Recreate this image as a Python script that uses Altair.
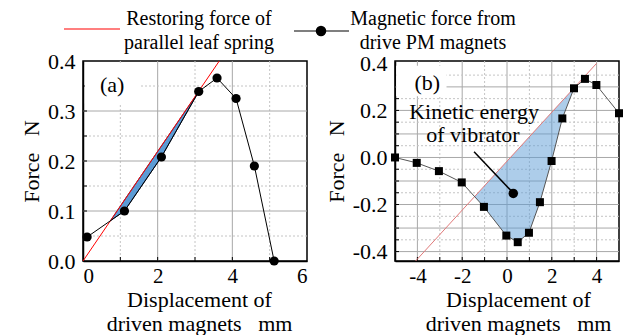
import altair as alt
import pandas as pd

FONT = "Liberation Serif"
W, H = 224, 200

# ---------------- Panel (a) data ----------------
a_disp = [0.11, 1.11, 2.10, 3.10, 3.59, 4.10, 4.59, 5.12]
a_force = [0.048, 0.100, 0.208, 0.339, 0.366, 0.325, 0.190, 0.000]
a_spring_disp = [0.0, 3.65]
a_spring_force = [0.0, 0.40]
a_fill_disp = [0.74, 1.11, 2.10, 3.10]
a_fill_lower = [0.081, 0.100, 0.208, 0.339]
a_fill_upper = [0.081, 0.122, 0.230, 0.339]
a_grid_x_major = [2, 4]
a_grid_x_minor = [1, 3, 5]
a_grid_y_major = [0.1, 0.2, 0.3]
a_grid_y_minor = [0.05, 0.15, 0.25, 0.35]
a_ticks_x = [1, 2, 3, 4, 5]
a_ticks_y = [0.05, 0.1, 0.15, 0.2, 0.25, 0.3, 0.35]
a_xlabels = [0, 2, 4, 6]
a_ylabels = [0.0, 0.1, 0.2, 0.3, 0.4]

# ---------------- Panel (b) data ----------------
b_disp = [-5.0, -4.03, -3.04, -2.02, -1.03, -0.03, 0.48, 0.98, 1.47, 1.99,
          2.47, 2.99, 3.48, 3.99, 5.0]
b_force = [0.0, -0.023, -0.058, -0.106, -0.210, -0.332, -0.360, -0.320,
           -0.190, -0.015, 0.166, 0.294, 0.334, 0.308, 0.188]
b_spring_disp = [-4.08, 4.0]
b_spring_force = [-0.44, 0.40]
b_fill_disp = [-1.45, -1.03, -0.03, 0.48, 0.98, 1.47, 1.99, 2.47, 2.99]
b_fill_lower = [-0.166, -0.210, -0.332, -0.360, -0.320, -0.190, -0.015, 0.166, 0.294]
b_fill_upper = [-0.167, -0.123, -0.019, 0.034, 0.086, 0.137, 0.191, 0.241, 0.295]
b_grid_x_major = [-4, -2, 0, 2, 4]
b_grid_x_minor = [-3, -1, 1, 3]
b_grid_y_major = [-0.4, -0.3, -0.2, -0.1, 0.0, 0.1, 0.2, 0.3]
b_grid_y_minor = [-0.35, -0.25, -0.15, -0.05, 0.05, 0.15, 0.25, 0.35]
b_ticks_x = [-4, -3, -2, -1, 0, 1, 2, 3, 4]
b_ticks_y = [-0.4, -0.35, -0.3, -0.25, -0.2, -0.15, -0.1, -0.05, 0.0,
             0.05, 0.1, 0.15, 0.2, 0.25, 0.3, 0.35]
b_xlabels = [-4, -2, 0, 2, 4]
b_ylabels = [-0.4, -0.2, 0.0, 0.2, 0.4]

# annotation (b)
b_note_lines = ["Kinetic energy", "of vibrator"]
b_note_x = [-1.47, -1.52]
b_note_y = [0.194, 0.095]
b_arrow = {"x": [-1.47], "y": [0.024], "x2": [0.20], "y2": [-0.143]}
b_dot = {"x": [0.28], "y": [-0.153]}

# legend texts
leg1_lines = ["Restoring force of", "parallel leaf spring"]
leg2_lines = ["Magnetic force from", "drive PM magnets"]

X_TITLE = ["Displacement of", "driven magnets\u00a0\u00a0\u00a0mm"]
Y_TITLE = "Force\u00a0\u00a0\u00a0N"
MINUS = "replace(format(datum.value, '{f}'), '\u2212', '-')"


class Panel:
    def __init__(self, xdom, ydom, xlabels, ylabels, title_x):
        self.xs = alt.Scale(domain=xdom, nice=False, zero=False)
        self.ys = alt.Scale(domain=ydom, nice=False, zero=False)
        self.ax = alt.Axis(values=xlabels, title=X_TITLE, ticks=False, grid=False, tickSize=0,
                           labelPadding=4, labelFontSize=21, labelExpr=MINUS.format(f="d"),
                           titleX=title_x, titleAlign="center",
                           titleY=28, titleBaseline="top", titleLineHeight=24)
        self.ay = alt.Axis(values=ylabels, title=Y_TITLE, ticks=False, grid=False, tickSize=0,
                           labelPadding=8, labelExpr=MINUS.format(f=".1f"), titlePadding=4)

    def X(self, f):
        return alt.X(f, scale=self.xs, axis=self.ax)

    def Y(self, f):
        return alt.Y(f, scale=self.ys, axis=self.ay)


def grid_layers(P, gx_major, gx_minor, gy_major, gy_minor, tx, ty):
    layers = []
    for vals, dash, col in [(gx_minor, [2, 2], "#c4c4c4"), (gx_major, [1, 0], "#a8a8a8")]:
        layers.append(alt.Chart(pd.DataFrame({"v": vals})).mark_rule(
            color=col, strokeWidth=1, strokeDash=dash).encode(x=P.X("v:Q")))
    for vals, dash, col in [(gy_minor, [2, 2], "#c4c4c4"), (gy_major, [1, 0], "#a8a8a8")]:
        layers.append(alt.Chart(pd.DataFrame({"v": vals})).mark_rule(
            color=col, strokeWidth=1, strokeDash=dash).encode(y=P.Y("v:Q")))
    layers.append(alt.Chart(pd.DataFrame({"v": tx})).mark_rule(color="black", strokeWidth=1).encode(
        x=P.X("v:Q"), y=alt.value(H), y2=alt.value(H - 4)))
    layers.append(alt.Chart(pd.DataFrame({"v": ty})).mark_rule(color="black", strokeWidth=1).encode(
        y=P.Y("v:Q"), x=alt.value(0), x2=alt.value(4)))
    return layers


# ---------------- Panel (a) ----------------
A = Panel([0, 6], [0, 0.4], a_xlabels, a_ylabels, W / 2 + 4)
a_df = pd.DataFrame({"d": a_disp, "f": a_force})
a_sp = pd.DataFrame({"d": a_spring_disp, "f": a_spring_force})
a_fill = pd.DataFrame({"d": a_fill_disp, "lo": a_fill_lower, "hi": a_fill_upper})

a_layers = grid_layers(A, a_grid_x_major, a_grid_x_minor, a_grid_y_major,
                       a_grid_y_minor, a_ticks_x, a_ticks_y)
a_layers.append(alt.Chart(pd.DataFrame({"x": [0.05], "x2": [1.5], "y": [0.315], "y2": [0.392]}))
                .mark_rect(color="white").encode(x=A.X("x:Q"), x2="x2", y=A.Y("y:Q"), y2="y2"))
a_layers.append(alt.Chart(a_fill).mark_area(color="#5b9bd5", stroke="#1f3864", strokeWidth=1).encode(
    x=A.X("d:Q"), y=A.Y("lo:Q"), y2="hi:Q"))
a_layers.append(alt.Chart(a_sp).mark_line(color="#ff0000", strokeWidth=1).encode(
    x=A.X("d:Q"), y=A.Y("f:Q")))
a_layers.append(alt.Chart(a_df).mark_line(color="black", strokeWidth=1).encode(
    x=A.X("d:Q"), y=A.Y("f:Q")))
a_layers.append(alt.Chart(a_df).mark_circle(color="black", size=85, opacity=1).encode(
    x=A.X("d:Q"), y=A.Y("f:Q")))
a_layers.append(alt.Chart(pd.DataFrame({"t": ["(a)"], "x": [0.78], "y": [0.353]})).mark_text(
    fontSize=22, font=FONT, baseline="middle").encode(x=A.X("x:Q"), y=A.Y("y:Q"), text="t:N"))

# legend (placed relative to panel (a) plot origin)
one = pd.DataFrame({"k": [0]})
a_layers.append(alt.Chart(one).mark_rule(color="#ff0000", strokeWidth=1.2).encode(
    x=alt.value(-19), x2=alt.value(37), y=alt.value(-32)))
for i, t in enumerate(leg1_lines):
    a_layers.append(alt.Chart(one).mark_text(
        fontSize=20, font=FONT, align="center", baseline="alphabetic", text=t).encode(
        x=alt.value(116), y=alt.value(-36 + 24 * i)))
a_layers.append(alt.Chart(one).mark_rule(color="black", strokeWidth=1.2).encode(
    x=alt.value(211), x2=alt.value(266), y=alt.value(-30)))
a_layers.append(alt.Chart(one).mark_circle(color="black", size=110, opacity=1).encode(
    x=alt.value(238), y=alt.value(-30)))
for i, t in enumerate(leg2_lines):
    a_layers.append(alt.Chart(one).mark_text(
        fontSize=20, font=FONT, align="center", baseline="alphabetic", text=t).encode(
        x=alt.value(350), y=alt.value(-36 + 24 * i)))

panel_a = alt.layer(*a_layers).properties(width=W, height=H)

# ---------------- Panel (b) ----------------
B = Panel([-5, 5], [-0.44, 0.41], b_xlabels, b_ylabels, W / 2 + 11)
b_df = pd.DataFrame({"d": b_disp, "f": b_force})
b_sp = pd.DataFrame({"d": b_spring_disp, "f": b_spring_force})
b_fill = pd.DataFrame({"d": b_fill_disp, "lo": b_fill_lower, "hi": b_fill_upper})

b_layers = grid_layers(B, b_grid_x_major, b_grid_x_minor, b_grid_y_major,
                       b_grid_y_minor, b_ticks_x, b_ticks_y)
b_layers.append(alt.Chart(pd.DataFrame({"x": [-4.95], "x2": [-2.7], "y": [0.26], "y2": [0.39]}))
                .mark_rect(color="white").encode(x=B.X("x:Q"), x2="x2", y=B.Y("y:Q"), y2="y2"))
b_layers.append(alt.Chart(b_fill).mark_area(color="#5b9bd5", opacity=0.5).encode(
    x=B.X("d:Q"), y=B.Y("lo:Q"), y2="hi:Q"))
b_layers.append(alt.Chart(b_sp).mark_line(color="#e07a7a", strokeWidth=1).encode(
    x=B.X("d:Q"), y=B.Y("f:Q")))
b_layers.append(alt.Chart(b_df).mark_line(color="#555555", strokeWidth=1).encode(
    x=B.X("d:Q"), y=B.Y("f:Q")))
b_layers.append(alt.Chart(b_df).mark_square(color="black", size=64, opacity=1, filled=True).encode(
    x=B.X("d:Q"), y=B.Y("f:Q")))
b_layers.append(alt.Chart(pd.DataFrame({"t": ["(b)"], "x": [-3.56], "y": [0.315]})).mark_text(
    fontSize=22, font=FONT, baseline="middle").encode(x=B.X("x:Q"), y=B.Y("y:Q"), text="t:N"))
b_layers.append(alt.Chart(pd.DataFrame({"t": b_note_lines, "x": b_note_x, "y": b_note_y})).mark_text(
    fontSize=22, font=FONT, baseline="middle").encode(x=B.X("x:Q"), y=B.Y("y:Q"), text="t:N"))
b_layers.append(alt.Chart(pd.DataFrame(b_arrow)).mark_rule(color="black", strokeWidth=1.5).encode(
    x=B.X("x:Q"), y=B.Y("y:Q"), x2="x2", y2="y2"))
b_layers.append(alt.Chart(pd.DataFrame(b_dot)).mark_circle(color="black", size=90, opacity=1).encode(
    x=B.X("x:Q"), y=B.Y("y:Q")))

panel_b = alt.layer(*b_layers).properties(width=W, height=H)

chart = alt.hconcat(panel_a, panel_b, spacing=88, bounds="flush").properties(
    padding={"left": 11, "top": 0, "right": 5, "bottom": 0}
).configure_view(stroke="black", strokeWidth=1.5).configure_axis(
    labelFont=FONT, titleFont=FONT, labelFontSize=22, titleFontSize=22,
    titleFontWeight="normal", labelColor="black", titleColor="black",
    domainColor="black", domainWidth=1.5
).configure_text(font=FONT)

chart.save("out.html", embed_options={"renderer": "svg", "actions": False})
